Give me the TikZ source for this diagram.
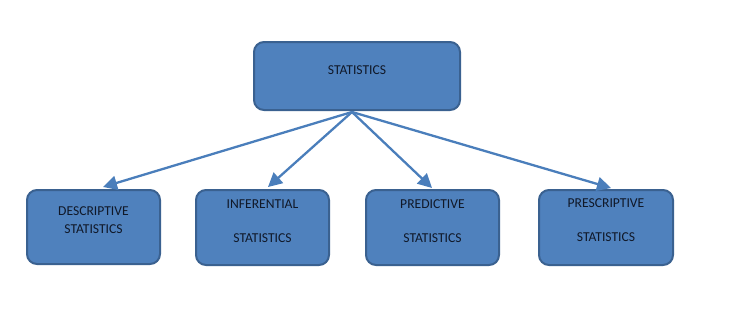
\documentclass[tikz,border=0pt]{standalone}
\usepackage{fontspec}
\setmainfont{Carlito}
\usetikzlibrary{arrows.meta}
\definecolor{boxfill}{HTML}{4F81BD}
\definecolor{boxline}{HTML}{3A6190}
\definecolor{arrowcol}{HTML}{4A7EBB}
\definecolor{txt}{HTML}{101828}
\begin{document}
\begin{tikzpicture}[x=1pt,y=-1pt,
  box/.style={draw=boxline, line width=2pt, fill=boxfill, rounded corners=10pt, inner sep=0pt},
  lbl/.style={font=\fontsize{13.6}{15}\selectfont, text=txt, inner sep=0pt, anchor=center},
  conn/.style={draw=arrowcol, line width=2.3pt, -{Triangle[length=14pt,width=14pt]}}]
\useasboundingbox (0,0) rectangle (730,322);
\node[box, minimum width=206pt, minimum height=68pt] (stat) at (357,76) {};
\node[box, minimum width=133pt, minimum height=74pt] (desc) at (93.5,227) {};
\node[box, minimum width=133pt, minimum height=75pt] (infr) at (262.5,227.5) {};
\node[box, minimum width=133pt, minimum height=75pt] (pred) at (432.5,227.5) {};
\node[box, minimum width=134pt, minimum height=75pt] (pres) at (606,227.5) {};
\node[lbl] (t0) at (357,70) {STATISTICS};
\node[lbl] (t1a) at (93.5,211) {DESCRIPTIVE};
\node[lbl] (t1b) at (93.5,229) {STATISTICS};
\node[lbl] (t2a) at (262.5,204) {INFERENTIAL};
\node[lbl] (t2b) at (262.5,238) {STATISTICS};
\node[lbl] (t3a) at (432.5,204) {PREDICTIVE};
\node[lbl] (t3b) at (432.5,238) {STATISTICS};
\node[lbl] (t4a) at (606,203) {PRESCRIPTIVE};
\node[lbl] (t4b) at (606,237) {STATISTICS};
\coordinate (src) at (352,112);
\coordinate (e1) at (103,187);
\coordinate (e2) at (268,187);
\coordinate (e3) at (432,188);
\coordinate (e4) at (611,188);
\draw[conn] (src) -- (e1);
\draw[conn] (src) -- (e2);
\draw[conn] (src) -- (e3);
\draw[conn] (src) -- (e4);
\end{tikzpicture}
\end{document}
